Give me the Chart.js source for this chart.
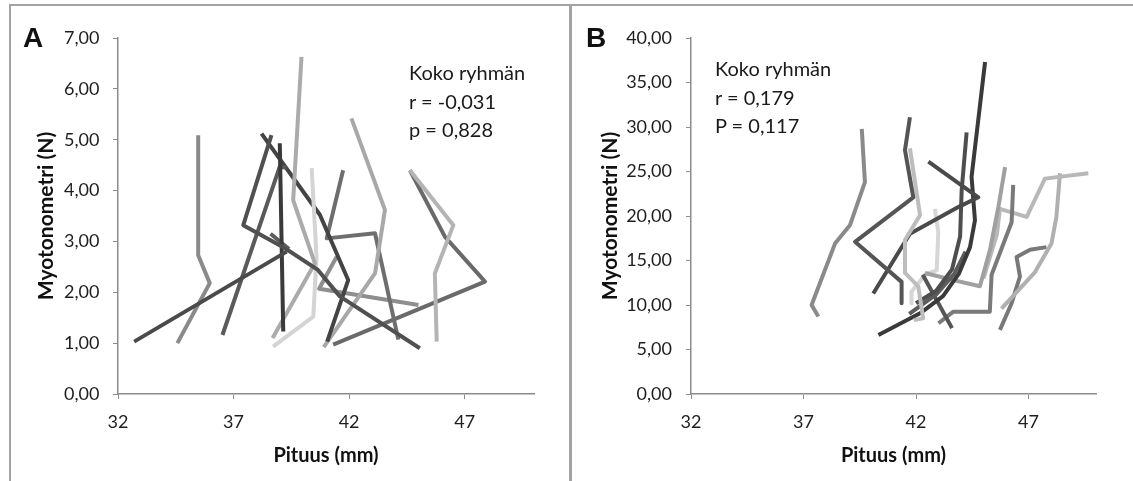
<!DOCTYPE html>
<html>
<head>
<meta charset="utf-8">
<script src="https://cdn.jsdelivr.net/npm/chart.js@4.4.1/dist/chart.umd.min.js"></script>
<style>
  body { margin: 0; background: #fff; }
  #page { position: relative; width: 1133px; height: 481px; overflow: hidden; background: #fff; }
  .frame { position: absolute; border: 2px solid #a3a3a3; }
  canvas { position: absolute; top: 0; }
  .letter { position: absolute; font-family: "Liberation Sans", Arial, sans-serif; font-weight: bold; font-size: 28px; line-height: 27px; color: #111; }
  .note { position: absolute; font-family: Lato, sans-serif; font-size: 20px; line-height: 28.5px; color: #1a1a1a; white-space: nowrap; }
</style>
</head>
<body>
<div id="page">
  <div class="frame" style="left:9px; top:4px; width:559px; height:500px;"></div>
  <div class="frame" style="left:569px; top:4px; width:600px; height:500px;"></div>
  <canvas id="chartA" width="570" height="481" style="left:0px;"></canvas>
  <canvas id="chartB" width="563" height="481" style="left:570px;"></canvas>
  <div class="letter" style="left:23px; top:24px;">A</div>
  <div class="letter" style="left:586px; top:24px;">B</div>
  <div class="note" style="left:409px; top:58px;">Koko ryhmän<br>r = -0,031<br>p = 0,828</div>
  <div class="note" style="left:715px; top:54px;">Koko ryhmän<br>r = 0,179<br>P = 0,117</div>
</div>
<script>
// tick labels
const xTicks = [32, 37, 42, 47];
const yTicksA = [0, 1, 2, 3, 4, 5, 6, 7];
const yTicksB = [0, 5, 10, 15, 20, 25, 30, 35, 40];

// A: Pituus (mm) / Myotonometri (N), one row per subject
const lengthA = [
    [32.7, 39.3],
    [34.57, 35.97, 35.47, 35.47],
    [38.64, 37.42, 39.21, 40.65, 41.6, 45.06],
    [39.0, 39.15],
    [36.52, 39.0, 39.3],
    [38.69, 40.52, 39.58, 39.94],
    [38.71, 40.45, 40.59, 40.38],
    [38.21, 40.74, 41.96, 41.05],
    [40.9, 43.12, 43.55, 42.1],
    [41.74, 41.03, 43.12, 44.13],
    [44.63, 46.51, 45.71, 45.79],
    [44.63, 46.15, 47.88, 41.31],
    [41.46, 40.7, 45.0],
    [38.6, 39.4]
];
const forceA = [
    [1.03, 2.8],
    [1.0, 2.18, 2.73, 5.09],
    [5.09, 3.32, 2.87, 2.44, 1.92, 0.9],
    [4.93, 1.23],
    [1.16, 4.47, 4.45],
    [1.1, 2.57, 3.81, 6.63],
    [0.93, 1.52, 2.7, 4.44],
    [5.12, 3.52, 2.24, 1.03],
    [0.92, 2.37, 3.62, 5.42],
    [4.40, 3.06, 3.16, 1.07],
    [4.40, 3.32, 2.37, 1.03],
    [4.40, 3.09, 2.21, 0.97],
    [2.7, 2.07, 1.75],
    [3.15, 2.85]
];

// B
const lengthB = [
    [37.66, 37.36, 38.4, 39.07, 39.73, 39.59],
    [41.73, 41.51, 41.88, 39.29, 41.36, 41.36],
    [41.73, 42.18, 41.51, 41.51, 42.1, 42.32, 41.9],
    [40.1, 41.73, 43.88, 44.77, 42.55],
    [40.33, 42.18, 43.2, 43.9, 44.4, 44.62, 44.47, 45.07],
    [42.0, 42.9, 43.6, 43.96, 44.03, 44.25],
    [41.7, 42.9, 43.7, 44.2],
    [42.3, 43.6],
    [43.0, 43.66, 45.28, 45.36, 46.25, 46.32],
    [42.4, 43.66, 44.84, 45.29, 45.66, 45.96],
    [45.0, 45.6, 45.73, 46.92, 47.73, 49.66],
    [45.8, 47.29, 48.02, 48.24, 48.4],
    [45.73, 46.25, 46.62, 46.47, 47.07, 47.8],
    [42.84, 42.99, 42.92, 42.4, 41.8, 41.8]
];
const forceB = [
    [8.7, 10.0, 16.9, 19.0, 23.8, 29.8],
    [31.1, 27.4, 22.1, 17.1, 12.6, 10.2],
    [27.6, 20.1, 17.3, 13.6, 12.1, 8.5, 8.3],
    [11.3, 18.0, 21.0, 22.1, 26.1],
    [6.64, 9.07, 11.0, 13.5, 16.5, 19.5, 24.4, 37.3],
    [10.2, 11.6, 14.0, 17.7, 22.9, 29.4],
    [9.0, 11.2, 13.5, 16.0],
    [13.4, 7.4],
    [7.95, 9.25, 9.25, 13.4, 19.3, 23.5],
    [13.6, 12.8, 12.1, 16.2, 21.0, 25.5],
    [13.0, 18.0, 20.8, 19.9, 24.2, 24.8],
    [9.6, 13.7, 16.9, 19.9, 24.8],
    [7.2, 10.2, 13.2, 15.4, 16.2, 16.5],
    [20.8, 18.2, 13.9, 13.4, 11.5, 10.2]
];

// line shades
const shadesA = ['#4a4a4a', '#8a8a8a', '#505050', '#3a3a3a', '#5a5a5a', '#ababab', '#d4d4d4',
    '#444444', '#a8a8a8', '#6e6e6e', '#b4b4b4', '#6a6a6a', '#8e8e8e', '#5e5e5e'];
const shadesB = ['#8a8a8a', '#555555', '#bdbdbd', '#4a4a4a', '#3a3a3a', '#4e4e4e', '#5c5c5c',
    '#555555', '#7a7a7a', '#a0a0a0', '#b8b8b8', '#b0b0b0', '#787878', '#d6d6d6'];

Chart.defaults.font.family = 'Lato';

function buildSets(xs, ys, shades) {
    return xs.map(function (row, i) {
        return {
            data: row.map(function (x, j) { return { x: x, y: ys[i][j] }; }),
            showLine: true,
            borderColor: shades[i],
            borderWidth: 4,
            borderJoinStyle: 'round',
            pointRadius: 0,
            fill: false,
            tension: 0
        };
    });
}

function panel(id, xs, ys, shades, yTicks, yMax, p) {
    var axisColor = '#8c8c8c';
    return new Chart(document.getElementById(id), {
        type: 'scatter',
        data: { datasets: buildSets(xs, ys, shades) },
        options: {
            responsive: false,
            devicePixelRatio: 1,
            animation: false,
            events: [],
            layout: { padding: { left: 0, top: 38, right: p.right, bottom: 0 } },
            plugins: { legend: { display: false }, tooltip: { enabled: false } },
            scales: {
                x: {
                    type: 'linear',
                    min: 32,
                    max: 50,
                    afterBuildTicks: function (s) { s.ticks = xTicks.map(function (v) { return { value: v }; }); },
                    afterFit: function (s) { s.height = 87; },
                    grid: { display: true, drawOnChartArea: false, drawTicks: true, tickLength: 5, color: axisColor },
                    border: { display: true, color: axisColor, width: 1.5 },
                    ticks: {
                        padding: 12.4,
                        color: '#1e1e1e',
                        font: { size: 18 },
                        callback: function (v) { return String(v); }
                    },
                    title: {
                        display: true,
                        text: 'Pituus (mm)',
                        color: '#111',
                        font: { size: 20, weight: 'bold' },
                        padding: { top: 0, bottom: 13 }
                    }
                },
                y: {
                    type: 'linear',
                    min: 0,
                    max: yMax,
                    afterBuildTicks: function (s) { s.ticks = yTicks.map(function (v) { return { value: v }; }); },
                    afterFit: function (s) { s.width = p.yWidth; },
                    grid: { display: true, drawOnChartArea: false, drawTicks: true, tickLength: 5, color: axisColor },
                    border: { display: true, color: axisColor, width: 1.5 },
                    ticks: {
                        padding: p.tickPad,
                        color: '#1e1e1e',
                        font: { size: 18 },
                        callback: function (v) { return v.toFixed(2).replace('.', ','); }
                    },
                    title: {
                        display: true,
                        text: 'Myotonometri (N)',
                        color: '#111',
                        font: { size: 21, weight: 'bold' },
                        padding: { top: p.titlePad, bottom: 0 }
                    }
                }
            }
        }
    });
}

panel('chartA', lengthA, forceA, shadesA, yTicksA, 7, { right: 36, yWidth: 118, tickPad: 13.5, titlePad: 33.4 });
panel('chartB', lengthB, forceB, shadesB, yTicksB, 40, { right: 37, yWidth: 121, tickPad: 14, titlePad: 27.4 });
</script>
</body>
</html>
